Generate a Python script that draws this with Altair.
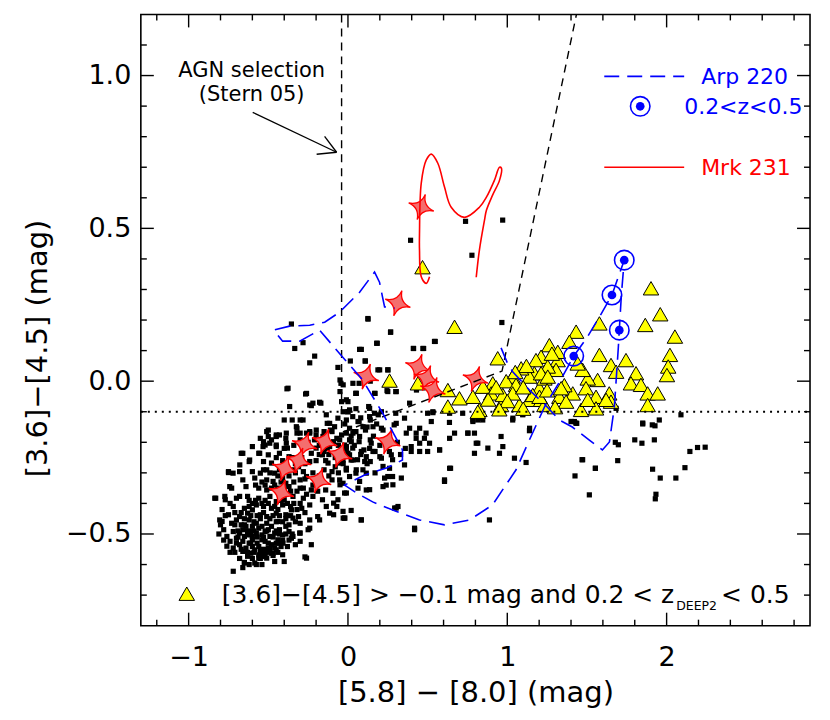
import altair as alt
import pandas as pd

W, H = 670, 612
FONT = "DejaVu Sans"

# ---------------- axis ticks ----------------
x_major = [-1, 0, 1, 2]
x_minor = [-1.2, -0.8, -0.6, -0.4, -0.2, 0.2, 0.4, 0.6, 0.8, 1.2, 1.4, 1.6, 1.8,
           2.2, 2.4, 2.6, 2.8]
y_major = [-0.5, 0.0, 0.5, 1.0]
y_minor = [-0.7, -0.6, -0.4, -0.3, -0.2, -0.1, 0.1, 0.2, 0.3, 0.4, 0.6, 0.7, 0.8,
           0.9, 1.1]

# ---------------- data ----------------
# all galaxies (black squares)
galaxies = [
    (-0.51, -0.165), (-0.43, -0.176), (-0.32, -0.17), (-0.24, -0.165), (-0.10, -0.165), (-0.01, -0.17), (0.04, -0.165),
    (-0.55, -0.187), (-0.48, -0.192), (-0.39, -0.187), (-0.30, -0.192), (-0.21, -0.192), (-0.07, -0.187), (0.01, -0.192),
    (-0.60, -0.214), (-0.52, -0.209), (-0.45, -0.214), (-0.38, -0.219), (-0.20, -0.219), (-0.115, -0.214), (-0.01, -0.214),
    (-0.67, -0.236), (-0.56, -0.236), (-0.50, -0.241), (-0.43, -0.236), (-0.37, -0.247), (-0.23, -0.236), (-0.16, -0.241), (0.02, -0.258),
    (-0.62, -0.263), (-0.53, -0.263), (-0.48, -0.268), (-0.24, -0.263), (-0.125, -0.268), (-0.05, -0.268),
    (-0.75, -0.296), (-0.68, -0.296), (-0.60, -0.296), (-0.51, -0.29), (-0.46, -0.301), (-0.345, -0.29), (-0.28, -0.296), (-0.10, -0.296), (-0.01, -0.29), (0.05, -0.301),
    (-0.66, -0.323), (-0.585, -0.317), (-0.51, -0.323), (-0.47, -0.328), (-0.41, -0.317), (-0.30, -0.323), (-0.26, -0.312), (-0.10, -0.323), (-0.05, -0.339),
    (-0.73, -0.35), (-0.64, -0.345), (-0.56, -0.35), (-0.51, -0.356), (-0.37, -0.345), (-0.30, -0.35), (-0.23, -0.356), (-0.14, -0.356), (-0.01, -0.366),
    (-0.83, -0.383), (-0.77, -0.388), (-0.70, -0.383), (-0.63, -0.377), (-0.56, -0.383), (-0.49, -0.377), (-0.345, -0.377), (-0.28, -0.383), (-0.22, -0.377), (-0.16, -0.388), (-0.09, -0.399),
    (-0.72, -0.41), (-0.65, -0.416), (-0.60, -0.421), (-0.53, -0.41), (-0.48, -0.416), (-0.41, -0.405), (-0.355, -0.421), (-0.29, -0.416), (-0.24, -0.405), (-0.07, -0.41),
    (-0.75, -0.437), (-0.68, -0.443), (-0.63, -0.432), (-0.55, -0.437), (-0.51, -0.443), (-0.45, -0.432), (-0.39, -0.437), (-0.31, -0.443), (-0.24, -0.454), (-0.19, -0.443), (-0.09, -0.437), (-0.02, -0.448),
    (-0.79, -0.459), (-0.73, -0.465), (-0.67, -0.47), (-0.62, -0.454), (-0.575, -0.465), (-0.51, -0.465), (-0.44, -0.459), (-0.37, -0.47), (-0.30, -0.465),
    (-0.78, -0.486), (-0.72, -0.492), (-0.66, -0.486), (-0.61, -0.492), (-0.56, -0.481), (-0.50, -0.486), (-0.43, -0.486), (-0.37, -0.492), (-0.30, -0.497), (-0.25, -0.486),
    (-0.76, -0.508), (-0.70, -0.514), (-0.65, -0.508), (-0.60, -0.519), (-0.54, -0.503), (-0.49, -0.508), (-0.44, -0.519), (-0.355, -0.514),
    (-0.68, -0.535), (-0.62, -0.53), (-0.56, -0.541), (-0.52, -0.524), (-0.48, -0.535), (-0.42, -0.541),
    (-0.72, -0.546), (-0.66, -0.557), (-0.585, -0.552), (-0.53, -0.563), (-0.48, -0.563), (-0.41, -0.568),
    (-0.63, -0.573), (-0.56, -0.579), (-0.51, -0.579), (-0.585, -0.595), (-0.65, -0.593), (-0.26, -0.579),
    (-0.64, -0.475), (-0.60, -0.475), (-0.54, -0.475), (-0.48, -0.475), (-0.68, -0.497), (-0.63, -0.503), (-0.575, -0.497),
    (-0.52, -0.492), (-0.46, -0.497), (-0.41, -0.503), (-0.66, -0.524), (-0.60, -0.508), (-0.54, -0.519), (-0.50, -0.53),
    (-0.45, -0.53), (-0.64, -0.546), (-0.60, -0.541), (-0.55, -0.557), (-0.50, -0.546), (-0.45, -0.552), (-0.70, -0.53),
    (-0.74, -0.524), (-0.61, -0.563), (-0.56, -0.568), (-0.52, -0.573),
    (-0.62, -0.41), (-0.575, -0.405), (-0.45, -0.394), (-0.40, -0.388), (-0.55, -0.301), (-0.43, -0.29), (-0.39, -0.334),
    (-0.43, -0.36), (-0.68, -0.377), (-0.39, -0.475), (-0.345, -0.448), (-0.70, -0.454), (-0.33, -0.535), (-0.30, -0.524),
    (-0.38, -0.541), (-0.46, -0.59), (-0.40, -0.59),
    # dense core of the cloud
    (-0.71, -0.47), (-0.69, -0.49), (-0.65, -0.47), (-0.63, -0.49), (-0.59, -0.49), (-0.57, -0.51), (-0.53, -0.51),
    (-0.51, -0.49), (-0.47, -0.51), (-0.45, -0.49), (-0.43, -0.50), (-0.41, -0.52), (-0.39, -0.50), (-0.37, -0.52),
    (-0.35, -0.50), (-0.71, -0.56), (-0.69, -0.51), (-0.67, -0.55), (-0.63, -0.56), (-0.61, -0.53), (-0.59, -0.56),
    (-0.57, -0.53), (-0.55, -0.58), (-0.53, -0.55), (-0.51, -0.56), (-0.49, -0.55), (-0.47, -0.57), (-0.46, -0.545),
    (-0.44, -0.56), (-0.43, -0.53), (-0.67, -0.43), (-0.65, -0.45), (-0.61, -0.44), (-0.59, -0.46), (-0.57, -0.44),
    (-0.55, -0.45), (-0.53, -0.43), (-0.49, -0.45), (-0.47, -0.44), (-0.45, -0.46), (-0.43, -0.44), (-0.41, -0.46),
    (-0.39, -0.45), (-0.36, -0.44), (-0.33, -0.46), (-0.62, -0.39), (-0.60, -0.40), (-0.58, -0.39), (-0.54, -0.40),
    (-0.52, -0.39), (-0.50, -0.40), (-0.46, -0.41), (-0.44, -0.42), (-0.42, -0.39), (-0.38, -0.40), (-0.36, -0.41),
    (-0.34, -0.40), (-0.32, -0.42), (-0.30, -0.40), (-0.27, -0.43), (-0.58, -0.34), (-0.54, -0.33), (-0.52, -0.34),
    (-0.48, -0.35), (-0.46, -0.34), (-0.44, -0.35), (-0.42, -0.33), (-0.40, -0.35), (-0.36, -0.36), (-0.34, -0.33),
    (-0.32, -0.36), (-0.28, -0.35), (-0.26, -0.37), (-0.22, -0.34), (-0.19, -0.36), (-0.53, -0.29), (-0.49, -0.30),
    (-0.44, -0.31), (-0.40, -0.29), (-0.37, -0.31), (-0.33, -0.30), (-0.31, -0.28), (-0.27, -0.32), (-0.22, -0.30),
    (-0.18, -0.31), (-0.15, -0.29), (-0.12, -0.31), (-0.08, -0.28), (-0.06, -0.30), (-0.45, -0.25), (-0.41, -0.26),
    (-0.35, -0.25), (-0.33, -0.27), (-0.29, -0.25), (-0.27, -0.27), (-0.20, -0.26), (-0.18, -0.24), (-0.14, -0.26),
    (-0.12, -0.24), (-0.08, -0.25), (-0.03, -0.27), (-0.40, -0.22), (-0.34, -0.21), (-0.28, -0.22), (-0.25, -0.20),
    (-0.18, -0.21), (-0.13, -0.22), (-0.06, -0.21), (-0.03, -0.23), (-0.60, -0.58), (-0.62, -0.60), (-0.68, -0.58),
    (-0.74, -0.56), (-0.76, -0.54), (-0.78, -0.52), (-0.66, -0.61), (-0.54, -0.60), (-0.80, -0.47), (-0.81, -0.50),
    (-0.77, -0.44), (-0.74, -0.40), (-0.79, -0.42), (-0.71, -0.43),
    # upper fringe of the cloud, around the vertical selection line
    (-0.376, -0.023), (-0.26, -0.04), (-0.24, -0.078), (-0.22, -0.072), (-0.17, -0.072), (-0.05, 0.004), (-0.03, -0.012),
    (0.0, -0.067), (0.01, -0.094), (0.0, -0.10), (-0.01, -0.127), (0.05, -0.04), (0.07, -0.007), (0.17, -0.04),
    (0.13, -0.083), (0.19, -0.11), (0.14, -0.127), (0.07, -0.132), (0.03, -0.116), (0.05, -0.165), (0.11, -0.16),
    (0.07, -0.198), (0.14, -0.192), (0.17, -0.23), (0.10, -0.225), (0.03, -0.219), (0.01, -0.241), (0.06, -0.257),
    (0.14, -0.263), (0.20, -0.247), (0.22, -0.279), (0.28, -0.257), (-0.32, -0.154), (-0.40, -0.127), (-0.35, -0.127),
    (-0.30, -0.127), (-0.13, -0.138), (-0.15, -0.165), (-0.11, -0.16), (-0.20, -0.176), (-0.50, -0.16), (-0.45, -0.176),
    (-0.30, -0.17), (-0.26, -0.17), (-0.53, -0.198), (-0.45, -0.209), (-0.09, -0.198), (-0.15, -0.23), (0.02, -0.18),
    (0.29, -0.143), (0.30, -0.105), (-0.05, -0.034), (-0.04, -0.067), (0.14, 0.0),
    (0.05, -0.09), (0.08, -0.12), (0.12, -0.15), (0.16, -0.18), (0.18, -0.14), (0.22, -0.16), (0.25, -0.19),
    (0.20, -0.21), (0.26, -0.23), (0.31, -0.20), (0.33, -0.24), (0.36, -0.22), (0.12, -0.27), (0.17, -0.30),
    (-0.02, -0.14), (0.04, -0.21), (0.08, -0.24),
    (-0.355, 0.187), (-0.334, 0.107), (-0.282, 0.126), (-0.209, 0.082), (-0.24, 0.06), (-0.063, 0.045), (0.125, 0.205),
    (0.267, 0.16), (0.18, 0.124), (0.073, 0.104), (0.108, 0.066), (0.188, 0.037), (0.25, 0.037), (0.245, -0.031),
    (0.303, -0.034), (0.41, 0.107), (0.47, 0.107), (0.543, 0.13), (-0.383, -0.025), (-0.266, -0.042), (-0.366, -0.083),
    (-0.23, -0.08), (-0.178, -0.069), (-0.136, -0.11), (-0.50, -0.181), (-0.66, -0.236), (-0.75, -0.299), (-0.836, -0.383),
    (-0.805, -0.454), (-0.72, -0.622), (-0.65, -0.595), (-0.575, -0.60), (-0.27, -0.575), (-0.23, -0.535), (0.606, -0.323),
    (0.644, -0.285), (0.418, -0.486), (0.303, -0.415), (0.083, -0.454), (0.02, -0.423), (-0.03, -0.448), (0.136, -0.355),
    (0.23, -0.317), (0.28, -0.312), (0.24, -0.34),
    (-0.115, -0.138), (-0.084, -0.149), (-0.063, -0.121), (-0.282, -0.127), (-0.324, -0.149), (-0.387, -0.17), (-0.45, -0.181),
    (-0.24, -0.17), (-0.199, -0.16), (-0.157, -0.181), (-0.387, -0.203), (-0.491, -0.203), (-0.533, -0.214), (-0.554, -0.236),
    (-0.617, -0.258), (-0.679, -0.274), (-0.721, -0.301), (-0.742, -0.345), (-0.773, -0.377), (-0.052, -0.192), (-0.021, -0.209),
    (0.0, -0.236), (-0.031, -0.258), (-0.01, -0.29), (-0.052, -0.323), (-0.031, -0.334), (0.01, -0.312), (-0.094, -0.367),
    (-0.063, -0.388), (-0.136, -0.41), (-0.115, -0.432), (-0.178, -0.454), (-0.24, -0.481), (-0.303, -0.497), (-0.345, -0.508),
    (-0.408, -0.53), (-0.47, -0.563), (-0.533, -0.574),
    # right of the selection line, below the triangles
    (-0.044, -0.007), (0.25, -0.034), (0.30, -0.034), (0.43, -0.029), (0.05, -0.04), (-0.01, -0.061), (0.387, -0.072),
    (-0.03, -0.10), (0.0, -0.10), (0.136, -0.089), (0.167, -0.105), (0.21, -0.10), (0.136, -0.116), (0.355, -0.121),
    (0.50, -0.105), (0.533, -0.10), (0.638, -0.105), (0.72, -0.105), (0.784, -0.132), (0.815, -0.127), (0.063, -0.132),
    (0.094, -0.149), (0.01, -0.154), (0.157, -0.149), (0.21, -0.154), (0.303, -0.138), (0.523, -0.132), (0.387, -0.154),
    (0.45, -0.154), (0.366, -0.17), (0.428, -0.17), (0.49, -0.17), (0.669, -0.17), (0.753, -0.17), (0.794, -0.17),
    (-0.04, -0.176), (0.031, -0.17), (0.073, -0.181), (0.638, -0.187), (0.428, -0.187), (0.48, -0.187), (0.021, -0.198),
    (0.146, -0.203), (0.45, -0.203), (0.512, -0.203), (0.805, -0.203), (-0.01, -0.22), (0.136, -0.22), (0.397, -0.214),
    (0.084, -0.23), (0.157, -0.23), (0.397, -0.23), (0.45, -0.23), (0.50, -0.23), (0.575, -0.225), (0.794, -0.236),
    (-0.03, -0.241), (0.115, -0.247), (0.21, -0.252), (0.272, -0.241), (0.031, -0.258), (0.105, -0.263), (-0.01, -0.285),
    (0.052, -0.29), (0.094, -0.29), (0.638, -0.285), (0.355, -0.274), (0.261, -0.285), (0.115, -0.301), (0.25, -0.312),
    (0.335, -0.317), (0.606, -0.328), (0.073, -0.328), (0.115, -0.356), (0.22, -0.345), (0.282, -0.339), (0.063, -0.35),
    (-0.021, -0.366), (0.314, -0.41), (0.293, -0.415), (-0.031, -0.426), (-0.021, -0.448), (0.084, -0.454), (0.418, -0.481),
    (0.888, -0.454),
    (0.966, 0.192), (1.035, -0.121), (1.076, -0.105), (1.097, -0.11), (0.784, -0.127), (0.826, -0.121), (1.40, -0.132),
    (1.43, -0.137), (1.85, -0.137), (1.91, -0.143), (1.954, -0.127), (1.14, -0.154), (1.683, -0.089),
    (1.404, -0.132), (1.436, -0.138), (1.85, -0.14), (1.927, -0.146), (2.09, -0.11), (1.80, -0.192), (1.845, -0.203),
    (1.923, -0.192), (1.678, -0.2), (1.697, -0.208), (1.469, -0.257), (1.693, -0.26), (1.553, -0.285), (1.425, -0.31),
    (1.912, -0.288), (1.96, -0.317), (2.058, -0.317), (2.115, -0.283), (2.146, -0.23), (2.194, -0.217), (2.242, -0.216),
    (1.515, -0.372), (1.933, -0.37), (1.929, -0.385),
    (0.533, -0.103), (0.637, -0.135), (0.846, -0.127), (1.034, -0.127), (1.097, -0.108), (1.139, -0.162), (0.752, -0.17),
    (0.961, -0.181), (0.815, -0.203), (0.878, -0.219), (0.972, -0.214), (0.951, -0.236), (1.045, -0.252), (1.118, -0.266),
    (0.575, -0.225), (1.473, -0.257), (1.553, -0.285), (1.421, -0.132),
    (0.778, 0.412), (0.126, 0.203), (0.268, 0.161), (0.184, 0.124), (0.084, 0.104), (0.015, 0.066), (0.109, 0.066),
    (0.199, 0.037), (0.251, 0.037), (0.412, 0.107), (0.475, 0.107), (0.548, 0.13), (0.031, -0.007),
    (0.052, -0.04), (0.167, -0.04), (0.393, 0.461), (0.738, 0.523), (0.971, 0.527),
]

# [3.6]-[4.5] > -0.1 and 0.2 < z < 0.5 (yellow triangles)
selected = [
    (0.669, 0.178), (0.94, 0.075), (1.432, 0.162), (1.578, 0.189), (1.902, 0.304), (1.96, 0.219), (1.866, 0.184),
    (2.052, 0.146), (2.021, 0.086), (2.01, 0.048), (2.002, 0.02), (1.745, 0.069), (1.808, 0.026), (1.776, -0.007),
    (1.839, -0.012), (1.881, -0.04), (1.944, -0.04), (1.881, -0.078), (1.578, 0.086), (1.651, 0.053), (1.683, 0.031),
    (1.64, -0.04), (1.651, -0.067), (1.567, 0.004), (1.505, 0.009), (1.494, -0.023), (1.557, -0.051), (1.557, -0.089),
    (1.463, -0.094), (1.505, -0.061), (1.411, -0.04), (1.264, 0.118), (1.316, 0.069), (1.212, 0.080), (1.306, 0.037),
    (1.254, 0.048), (1.18, 0.069), (1.17, 0.026), (1.139, 0.015), (1.087, 0.042), (1.034, 0.015), (0.993, 0.0),
    (1.055, -0.012), (0.909, -0.007), (0.899, -0.04), (0.784, -0.051), (0.70, -0.056), (0.627, -0.029), (0.627, -0.083),
    (0.825, -0.094), (0.961, -0.078), (1.076, -0.078), (1.139, -0.061), (1.212, -0.061), (1.327, -0.051), (1.358, -0.013),
    (0.972, -0.045), (1.034, -0.04), (1.202, -0.023), (1.233, 0.009), (1.473, 0.037),
    (0.847, -0.018), (1.16, -0.045), (1.212, 0.026), (1.254, 0.015), (1.317, 0.096), (1.338, -0.023), (1.39, 0.129),
    (1.442, 0.058), (1.233, -0.078), (1.369, -0.067), (1.202, -0.051), (1.62, -0.061),
    (0.468, 0.373), (0.261, 0.002), (0.439, -0.007), (0.815, -0.10),
    (0.88, -0.06), (0.93, -0.02), (1.0, -0.065), (1.10, -0.02), (1.12, 0.05), (1.25, -0.03), (1.28, 0.09),
    (0.95, -0.092), (1.10, -0.09), (1.30, -0.085), (1.05, 0.03),
]

# 4-point red stars
stars = [
    (0.460, 0.570), (0.313, 0.255), (0.115, 0.015), (0.439, 0.047), (0.493, 0.010), (0.533, -0.029), (0.800, 0.007),
    (0.250, -0.198), (-0.272, -0.208), (-0.146, -0.198), (-0.052, -0.241), (-0.309, -0.260), (-0.397, -0.285),
    (-0.184, -0.325), (-0.418, -0.364),
]

# Arp 220 redshift track (blue dashed)
arp_track = [
    (0.961, 0.109), (1.001, 0.059), (1.034, 0.031), (1.139, -0.029), (1.239, -0.078), (1.327, -0.127), (1.408, -0.150),
    (1.515, -0.193), (1.597, -0.225), (1.641, -0.199), (1.672, -0.085), (1.697, 0.111), (1.703, 0.167), (1.716, 0.282),
    (1.734, 0.396), (1.657, 0.282), (1.578, 0.210), (1.503, 0.145), (1.417, 0.082), (1.327, -0.003), (1.239, -0.078),
    (1.139, -0.192), (1.055, -0.290), (0.907, -0.405), (0.763, -0.454), (0.606, -0.470), (0.449, -0.454), (0.293, -0.424),
    (0.155, -0.395), (0.054, -0.366), (-0.021, -0.340), (0.104, -0.307), (0.242, -0.284), (0.342, -0.258), (0.342, -0.225),
    (0.217, -0.104), (0.092, 0.004), (-0.034, 0.079), (-0.178, 0.167), (-0.303, 0.131), (-0.410, 0.131), (-0.466, 0.167),
    (-0.366, 0.180), (-0.240, 0.183), (-0.146, 0.193), (-0.052, 0.226), (0.073, 0.291), (0.167, 0.357), (0.198, 0.324),
    (0.217, 0.275), (0.230, 0.243), (0.293, 0.239),
]

# Arp 220 at 0.2 < z < 0.5 (blue circles)
arp_z = [(1.417, 0.082), (1.657, 0.282), (1.734, 0.396), (1.703, 0.167)]

# Mrk 231 redshift track (red solid)
mrk_track = [
    (0.512, 0.342), (0.491, 0.320), (0.460, 0.342), (0.449, 0.429), (0.449, 0.484), (0.460, 0.648), (0.491, 0.723),
    (0.523, 0.743), (0.564, 0.713), (0.606, 0.635), (0.648, 0.569), (0.731, 0.536), (0.825, 0.569), (0.869, 0.602),
    (0.919, 0.657), (0.951, 0.700), (0.963, 0.697), (0.951, 0.657), (0.907, 0.608), (0.869, 0.559), (0.857, 0.527),
    (0.825, 0.429), (0.805, 0.340),
]

# Stern et al. (2005) AGN wedge and the colour cut
wedge = [(-0.04, 1.2), (-0.04, -0.168), (0.967, 0.033), (1.434, 1.2)]
color_cut = [(-1.3, -0.1), (2.9, -0.1)]


def df(points):
    return pd.DataFrame({"x": [p[0] for p in points], "y": [p[1] for p in points],
                         "i": list(range(len(points)))})


xs = alt.Scale(domain=[-1.3, 2.9], nice=False, zero=False)
ys = alt.Scale(domain=[-0.8, 1.2], nice=False, zero=False)

x_axis = alt.Axis(values=x_major, ticks=False, domain=False, grid=False, labelFlush=False,
                  labelExpr="datum.value < 0 ? '\u2212' + format(-datum.value, 'd') : format(datum.value, 'd')",
                  labelFontSize=27, labelPadding=19, labelColor="black", labelFont=FONT,
                  title="[5.8] \u2212 [8.0] (mag)", titleFontSize=29, titleFontWeight="normal",
                  titleFont=FONT, titleColor="black", titleX=335, titleY=76,
                  titleBaseline="alphabetic", titleAlign="center")
y_axis = alt.Axis(values=y_major, ticks=False, domain=False, grid=False, labelFlush=False,
                  labelExpr="datum.value < 0 ? '\u2212' + format(-datum.value, '.1f') : format(datum.value, '.1f')",
                  labelFontSize=27, labelPadding=10, labelColor="black", labelFont=FONT,
                  title="[3.6]\u2212[4.5] (mag)", titleFontSize=29, titleFontWeight="normal",
                  titleFont=FONT, titleColor="black", titleX=-103, titleY=334, titleAngle=-90,
                  titleBaseline="middle", titleAlign="center")


def X():
    return alt.X("x:Q", scale=xs, axis=x_axis)


def Y():
    return alt.Y("y:Q", scale=ys, axis=y_axis)


STAR = "M0,-1 Q0.1,-0.1 1,0 Q0.1,0.1 0,1 Q-0.1,0.1 -1,0 Q-0.1,-0.1 0,-1 Z"
BLUE = "#0000ff"
RED = "#ff0000"

layers = []

layers.append(alt.Chart(df(galaxies)).mark_point(shape="square", filled=True, color="black",
                                                 size=27, opacity=1).encode(x=X(), y=Y()))
layers.append(alt.Chart(df(selected)).mark_point(shape="triangle-up", filled=True, fill="#ffff00",
                                                 stroke="black", strokeWidth=1, size=240,
                                                 opacity=1).encode(x=X(), y=Y()))
layers.append(alt.Chart(df(stars)).mark_point(shape=STAR, filled=True, fill="#f46e6e", stroke=RED,
                                              strokeWidth=1.3, size=700, angle=18,
                                              opacity=1).encode(x=X(), y=Y()))
layers.append(alt.Chart(df(wedge)).mark_line(color="black", strokeDash=[8, 6], strokeWidth=1.4)
              .encode(x=X(), y=Y(), order="i:Q"))
layers.append(alt.Chart(df(color_cut)).mark_line(color="black", strokeDash=[2, 5], strokeWidth=2.2)
              .encode(x=X(), y=Y(), order="i:Q"))
layers.append(alt.Chart(df(arp_track)).mark_line(color=BLUE, strokeDash=[16, 8], strokeWidth=1.6)
              .encode(x=X(), y=Y(), order="i:Q"))
layers.append(alt.Chart(df(mrk_track)).mark_line(color=RED, strokeWidth=1.6, interpolate="catmull-rom")
              .encode(x=X(), y=Y(), order="i:Q"))
layers.append(alt.Chart(df(arp_z)).mark_point(shape="circle", filled=False, stroke=BLUE, strokeWidth=1.6,
                                             size=380, opacity=1).encode(x=X(), y=Y()))
layers.append(alt.Chart(df(arp_z)).mark_point(shape="circle", filled=True, color=BLUE, size=75,
                                             opacity=1).encode(x=X(), y=Y()))

# inward ticks on all four sides
def xticks(vals, length):
    d = pd.DataFrame({"x": vals})
    bottom = alt.Chart(d).mark_rule(color="black", strokeWidth=1.4).encode(
        x=X(), y=alt.value(H), y2=alt.value(H - length))
    top = alt.Chart(d).mark_rule(color="black", strokeWidth=1.4).encode(
        x=X(), y=alt.value(0), y2=alt.value(length))
    return [bottom, top]


def yticks(vals, length):
    d = pd.DataFrame({"y": vals})
    left = alt.Chart(d).mark_rule(color="black", strokeWidth=1.4).encode(
        y=Y(), x=alt.value(0), x2=alt.value(length))
    right = alt.Chart(d).mark_rule(color="black", strokeWidth=1.4).encode(
        y=Y(), x=alt.value(W - length), x2=alt.value(W))
    return [left, right]


layers += xticks(x_major, 13) + xticks(x_minor, 6) + yticks(y_major, 13) + yticks(y_minor, 6)


def text(s, x, y, size, color="black", align="left", baseline="alphabetic"):
    return alt.Chart(pd.DataFrame({"t": [s]})).mark_text(
        font=FONT, fontSize=size, color=color, align=align, baseline=baseline).encode(
        text="t:N", x=alt.value(x), y=alt.value(y))


# annotation: AGN selection
layers.append(text("AGN selection", 111, 63, 21, align="center"))
layers.append(text("(Stern 05)", 111, 87, 21, align="center"))
layers.append(alt.Chart().mark_rule(color="black", strokeWidth=1.3).encode(
    x=alt.value(112), y=alt.value(98), x2=alt.value(196), y2=alt.value(138)))
layers.append(alt.Chart().mark_rule(color="black", strokeWidth=1.3).encode(
    x=alt.value(184), y=alt.value(122), x2=alt.value(196), y2=alt.value(138)))
layers.append(alt.Chart().mark_rule(color="black", strokeWidth=1.3).encode(
    x=alt.value(176), y=alt.value(140), x2=alt.value(196), y2=alt.value(138)))

# legend (top right)
layers.append(alt.Chart().mark_rule(color=BLUE, strokeWidth=1.6, strokeDash=[15, 8]).encode(
    x=alt.value(464), x2=alt.value(544), y=alt.value(62)))
layers.append(text("Arp 220", 561, 70, 22, color=BLUE))
layers.append(alt.Chart(pd.DataFrame({"t": [0]})).mark_point(
    shape="circle", filled=False, stroke=BLUE, strokeWidth=1.6, size=380, opacity=1).encode(
    x=alt.value(500), y=alt.value(92)))
layers.append(alt.Chart(pd.DataFrame({"t": [0]})).mark_point(
    shape="circle", filled=True, color=BLUE, size=75, opacity=1).encode(
    x=alt.value(500), y=alt.value(92)))
layers.append(text("0.2<z<0.5", 544, 100, 22, color=BLUE))
layers.append(alt.Chart().mark_rule(color=RED, strokeWidth=1.6).encode(
    x=alt.value(464), x2=alt.value(544), y=alt.value(153)))
layers.append(text("Mrk 231", 561, 161, 22, color=RED))

# legend (bottom)
layers.append(alt.Chart(pd.DataFrame({"t": [0]})).mark_point(
    shape="triangle-up", filled=True, fill="#ffff00", stroke="black", strokeWidth=1,
    size=240, opacity=1).encode(x=alt.value(46), y=alt.value(580)))
layers.append(text("[3.6]\u2212[4.5] > \u22120.1 mag and 0.2 < z", 534, 589, 25, align="right"))
layers.append(text("DEEP2", 536, 596, 12.5))
layers.append(text("< 0.5", 581, 589, 25))

chart = alt.layer(*layers).properties(
    width=W, height=H,
    autosize=alt.AutoSizeParams(type="none"),
    padding={"left": 133, "top": 6, "right": 12, "bottom": 90},
).configure_view(stroke="black", strokeWidth=1.6)

chart.save("out.html", embed_options={"renderer": "svg", "actions": False})
